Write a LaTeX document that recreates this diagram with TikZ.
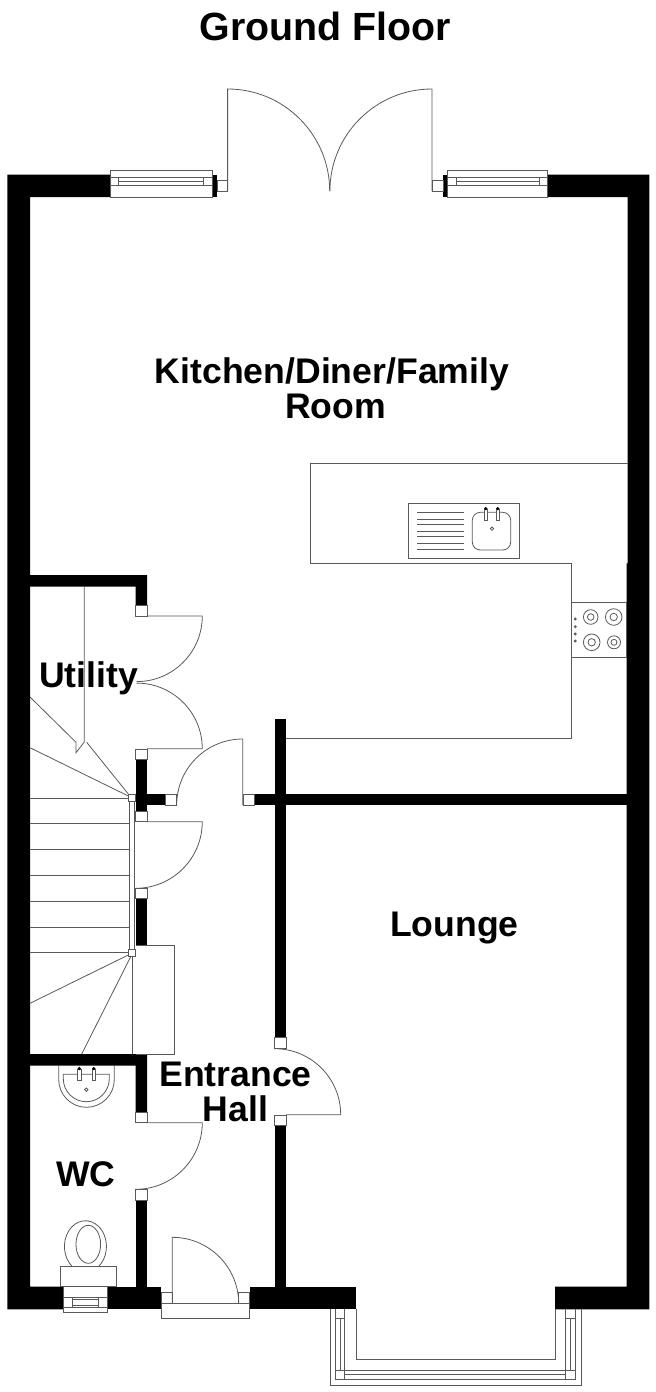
\documentclass[tikz,border=0pt]{standalone}
\usepackage{fontspec}
\setmainfont{Liberation Sans}
\tikzset{
  wall/.style={fill=black,draw=none},
  fine/.style={draw=black!65,line width=0.6pt},
  jamb/.style={fine,fill=white},
  roomlabel/.style={font=\fontsize{26.7pt}{26.2pt}\selectfont\bfseries,align=center,inner sep=0pt},
  titlelabel/.style={font=\fontsize{29.5pt}{30pt}\selectfont\bfseries,inner sep=0pt}
}
\begin{document}
\begin{tikzpicture}[x=0.75pt,y=-0.75pt]
      \useasboundingbox (0,0) rectangle (656,1392);
      \fill[wall] (7.3,174.5) -- (110,174.5) -- (110,197) -- (30,197) -- (30,1286.7) -- (63.3,1286.7) -- (63.3,1309.3) -- (7.3,1309.3) -- cycle;
      \fill[wall] (547.7,174.5) -- (649.3,174.5) -- (649.3,1309.3) -- (555,1309.3) -- (555,1286.7) -- (626.7,1286.7) -- (626.7,563.3) -- (627.7,563.3) -- (627.7,197) -- (547.7,197) -- cycle;
      \fill[wall] (212.5,174.5) rectangle (217,197);
      \fill[wall] (443,174.5) rectangle (447.7,197);
      \fill[wall] (107.3,1286.7) rectangle (161,1309.3);
      \fill[wall] (249.7,1286.7) rectangle (356,1309.3);
      \fill[wall] (30,575) -- (147,575) -- (147,605) -- (135.7,605) -- (135.7,586.7) -- (30,586.7) -- cycle;
      \fill[wall] (135.7,759.7) rectangle (147,811.3);
      \fill[wall] (147,794) rectangle (165.7,805);
      \fill[wall] (254,794) rectangle (626.7,805);
      \fill[wall] (274.7,719.3) rectangle (286,1037.7);
      \fill[wall] (274.7,1125.7) rectangle (286,1286.7);
      \fill[wall] (135.7,898.7) rectangle (147,945.3);
      \fill[wall] (30,1054) -- (147,1054) -- (147,1112) -- (135.7,1112) -- (135.7,1065.7) -- (30,1065.7) -- cycle;
      \fill[wall] (135.7,1200) rectangle (147,1286.7);
      \begin{scope}[fine]
        \draw (110,170.7) rectangle (212.5,197.3);
        \draw (110,177) -- (212.5,177);
        \draw (110,185.7) -- (212.5,185.7);
        \draw (118.8,177) rectangle (203.8,185.7);
        \draw (118.8,181) -- (203.8,181);
        \draw (447.7,170.7) rectangle (547.7,197.3);
        \draw (447.7,177) -- (547.7,177);
        \draw (447.7,185.7) -- (547.7,185.7);
        \draw (456,177) rectangle (539,185.7);
        \draw (456,181) -- (539,181);
        \draw (217,180) rectangle (227.6,191.5);
        \draw (432,180) rectangle (443,191.5);
        \draw (227.6,191) -- (227.6,89) arc[start angle=-90,end angle=0,radius=102.1];
        \draw (432,191) -- (432,89) arc[start angle=-90,end angle=-180,radius=102.1];
      \end{scope}
      \begin{scope}[fine]
        \draw (627.7,463.3) -- (310.3,463.3) -- (310.3,563.3) -- (571.7,563.3) -- (571.7,738.3) -- (286,738.3);
        \draw (571.7,602.3) rectangle (626.7,657.7);
        \draw (408.7,503.3) rectangle (519.3,558.7);
        \draw (417.3,512.3) -- (464,512.3);
        \draw (417.3,519) -- (464,519);
        \draw (417.3,524.3) -- (464,524.3);
        \draw (417.3,531) -- (464,531);
        \draw (417.3,536.3) -- (464,536.3);
        \draw (417.3,543.3) -- (464,543.3);
        \draw (417.3,549.7) -- (464,549.7);
        \draw[rounded corners=6pt] (472.3,512.3) rectangle (510.7,550);
        \draw[jamb] (484,509) rectangle (487.3,520.7);
        \draw[jamb] (496,509) rectangle (499.3,520.7);
        \fill[black] (485.7,508.6) circle (1.8);
        \fill[black] (497.7,508.6) circle (1.8);
        \draw (492,528.7) circle (1.7);
        \draw (590.7,617) circle (7.3);
        \draw (590.7,617) circle (3.3);
        \draw (613.7,617) circle (8.3);
        \draw (613.7,617) circle (3.7);
        \draw (591.7,642.3) circle (8.3);
        \draw (591.7,642.3) circle (3.7);
        \draw (614,642.3) circle (6.5);
        \draw (614,642.3) circle (3);
        \draw (575.3,619) circle (1);
        \draw (575.3,626.7) circle (1);
        \draw (575.3,634) circle (1);
        \draw (575.3,641) circle (1);
      \end{scope}
      \begin{scope}[fine]
        \draw (84.3,586.7) -- (84.3,742) -- (76,752.7) -- (76,742.3) -- (30,697);
        \draw (86.7,742.3) -- (128.3,794);
        \draw (30,747.7) -- (128.3,796);
        \draw (30,798.3) -- (128.3,798.3);
        \draw (30,823.7) -- (129.3,823.7);
        \draw (30,849.7) -- (129.3,849.7);
        \draw (30,875.3) -- (129.3,875.3);
        \draw (30,901) -- (129.3,901);
        \draw (30,927) -- (129.3,927);
        \draw (30,952.7) -- (129.3,952.7);
        \draw (129.3,801.7) -- (129.3,949);
        \draw (134.3,801.7) -- (134.3,949);
        \draw (128.3,955) -- (30,1003.3);
        \draw (130.7,956.7) -- (81.7,1054);
        \draw (132,956.7) -- (132,1054);
        \draw (135.7,945.3) -- (174.3,945.3) -- (174.3,1054) -- (135.7,1054);
        \draw[jamb] (128.3,794) rectangle (135.7,801.7);
        \draw[jamb] (128.3,949) rectangle (135.7,956.7);
      \end{scope}
      \begin{scope}[fine]
        \draw[jamb] (135.7,605) rectangle (147,616);
        \draw (147,616) -- (202.3,616) arc[start angle=0,end angle=90,radius=65.6];
        \draw[jamb] (135.7,749) rectangle (147,759.7);
        \draw (147,748.7) -- (202.3,748.7) arc[start angle=0,end angle=-90,radius=65.6];
        \draw[jamb] (165.7,794) rectangle (176.7,805);
        \draw (242.7,805) -- (242.7,739) arc[start angle=-90,end angle=-180,radius=66];
        \draw[jamb] (243.3,794) rectangle (254,805);
        \draw[jamb] (135.7,811.3) rectangle (147,821.7);
        \draw (147,821.7) -- (202.3,821.7) arc[start angle=0,end angle=90,radius=66.6];
        \draw[jamb] (135.7,888.3) rectangle (147,898.7);
        \draw[jamb] (274.7,1037.7) rectangle (286,1048.7);
        \draw (286,1114.7) -- (340.7,1114.7) arc[start angle=0,end angle=-90,radius=66];
        \draw[jamb] (274.7,1115) rectangle (286,1125.7);
        \draw[jamb] (135.7,1112) rectangle (147,1122.7);
        \draw (147,1122.7) -- (202.3,1122.7) arc[start angle=0,end angle=90,radius=66.6];
        \draw[jamb] (135.7,1189.3) rectangle (147,1200);
      \end{scope}
      \begin{scope}[fine]
        \draw (58.7,1065.7) -- (58.7,1079.5) arc[start angle=180,end angle=0,radius=27.8] -- (114.3,1065.7);
        \draw (63.3,1074.3) -- (109.3,1074.3) -- (109.3,1078.7) arc[start angle=0,end angle=180,radius=23] -- cycle;
        \draw[jamb] (77.7,1069) rectangle (81,1080.3);
        \draw[jamb] (92,1069) rectangle (95.3,1080.3);
        \fill[black] (79.3,1068.6) circle (1.8);
        \fill[black] (93.7,1068.6) circle (1.8);
        \draw (86.3,1089.7) circle (1.7);
        \draw (72.5,1266.7) arc[start angle=128,end angle=412,x radius=21,y radius=25.7];
        \draw (88.3,1244.3) ellipse (12.3 and 19);
        \draw (60.3,1266.7) rectangle (116,1286.7);
        \draw (63.3,1286.7) rectangle (107.3,1312.7);
        \draw (63.3,1297.7) -- (107.3,1297.7);
        \draw (63.3,1307.7) -- (107.3,1307.7);
        \draw (72,1297.7) rectangle (98.7,1307.7);
        \draw (72,1299.5) rectangle (98.7,1305.5);
      \end{scope}
      \begin{scope}[fine]
        \draw (161,1303.7) rectangle (249.7,1318.3);
        \draw[jamb] (161,1292.7) rectangle (172.3,1303.7);
        \draw[jamb] (238.7,1292.7) rectangle (249.7,1303.7);
        \draw (172.3,1303.7) -- (172.3,1237.3) arc[start angle=-90,end angle=0,radius=66.4];
      \end{scope}
      \begin{scope}[fine]
        \draw (330,1309.3) -- (330,1385.3) -- (581,1385.3) -- (581,1309.3);
        \draw (335.7,1309.3) -- (335.7,1379.3) -- (575.3,1379.3) -- (575.3,1309.3);
        \draw (344.7,1309.3) -- (344.7,1370.7) -- (565.7,1370.7) -- (565.7,1309.3);
        \draw (356,1309.3) -- (356,1359.3) -- (555,1359.3) -- (555,1309.3);
        \draw (344.7,1374.7) -- (565.7,1374.7);
        \draw (340.7,1318.3) -- (340.7,1370.7);
        \draw (570.7,1318.3) -- (570.7,1370.7);
        \draw (335.7,1318.3) -- (344.7,1318.3);
        \draw (565.7,1318.3) -- (575.3,1318.3);
        \draw (335.7,1370.7) -- (344.7,1370.7);
        \draw (344.7,1370.7) -- (344.7,1379.3);
        \draw (565.7,1370.7) -- (565.7,1379.3);
        \draw (565.7,1370.7) -- (575.3,1370.7);
      \end{scope}
      \node[titlelabel] (title) at (325.5,26) {Ground Floor};
      \node[roomlabel] (kitchen) at (332,388) {Kitchen/Diner/Family\\\hspace*{5.5pt}Room};
      \node[roomlabel] (utility) at (88.5,678) {Utility};
      \node[roomlabel] (lounge) at (454.5,928) {Lounge};
      \node[roomlabel] (hall) at (235.5,1092) {Entrance\\Hall};
      \node[roomlabel] (wc) at (86,1174) {WC};
    \end{tikzpicture}
\end{document}
